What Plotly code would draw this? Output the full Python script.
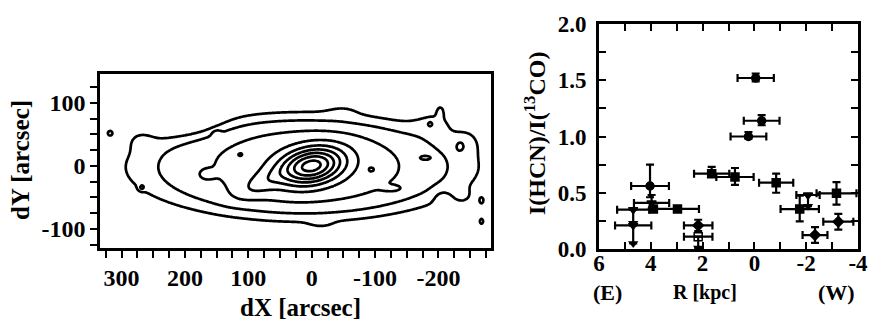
import numpy as np
import plotly.graph_objects as go

# ---------------- Left panel: contour map (emission components) -------------
# x0, y0 [arcsec], sx, sy [arcsec], amplitude, position angle [deg], profile power
clump_x = [16, 5, 0, 80, 205, 268, 168, 113, 150, -95, -128, -181, -195, -203, -187,
           -245, -234, -205, -240, 318, 268, -268, -268, -15, -50]
clump_y = [-2, 0, 0, -28, 75, 42, -14, 18, 50, -6, -36, 13, 70, 88, 67,
           40, 31, -50, -50, 52, -34, -55, -88, -92, 88]
clump_sx = [280, 117, 34, 30, 40, 15, 10, 5, 5, 6, 11, 8, 25, 5, 4,
            15, 4, 10, 12, 3.5, 3.5, 2.5, 2.5, 15, 20]
clump_sy = [84, 50.8, 18.9, 12, 18, 12, 7, 3.5, 5, 5, 3.5, 3, 15, 8, 4,
            15, 5, 10, 10, 3.5, 3.5, 4.0, 4.0, 6, 8]
clump_amp = [2.4, 1.4, 5.7, 1.0, -2.0, 0.8, 0.35, 0.9, 0.9, 0.7, 0.6, 0.9, 0.9, 0.8, 0.8,
             0.8, 0.8, -0.6, 0.6, 1.6, 1.2, 1.6, 1.6, 0.5, 0.5]
clump_ang = [0, 0, -12, -25, 0, 0, 0, 0, 0, 0, 0, 0, 0, 0, 0,
             0, 0, 0, 0, 0, 0, 0, 0, 0, 0]
clump_pow = [6, 2, 2, 2, 2, 2, 2, 2, 2, 2, 2, 2, 2, 2, 2,
             2, 2, 2, 2, 2, 2, 2, 2, 2, 2]
contour_levels = [1, 9, 1]  # start, end, size

dx_ticks = [300, 200, 100, 0, -100, -200]
dy_ticks = [100, 0, -100]

# ---------------- Right panel: line ratio vs radius -------------
R_kpc = [-0.05, -0.28, 0.23, 1.65, 0.75, -0.84, -1.75, -3.17, -3.24, -2.34,
         2.17, 2.17, 4.03, 3.97, 3.90, 2.97, 4.68, 4.68, -2.07]
ratio = [1.52, 1.14, 1.00, 0.67, 0.64, 0.59, 0.355, 0.495, 0.243, 0.124,
         0.21, 0.11, 0.56, 0.41, 0.355, 0.356, 0.35, 0.21, 0.48]
R_err = [0.70, 0.69, 0.69, 0.68, 0.72, 0.66, 0.74, 0.77, 0.58, 0.48,
         0.55, 0.55, 0.73, 0.68, 0.0, 0.83, 0.62, 0.70, 0.45]
ratio_err_up = [0.04, 0.05, 0.04, 0.06, 0.08, 0.08, 0.12, 0.10, 0.07, 0.07,
                0.05, 0.0, 0.19, 0.07, 0.0, 0.0, 0.0, 0.0, 0.0]
ratio_err_dn = [0.03, 0.04, 0.02, 0.03, 0.07, 0.09, 0.11, 0.10, 0.07, 0.07,
                0.05, 0.10, 0.10, 0.05, 0.0, 0.0, 0.12, 0.16, 0.10]
upper_limit = [0, 0, 0, 0, 0, 0, 0, 0, 0, 0, 0, 1, 0, 0, 0, 0, 1, 1, 1]
marker_sym = ["circle", "circle", "circle", "square", "square", "square", "square", "square",
              "diamond", "diamond", "diamond", "square-open", "circle", "triangle-down",
              "square", "square", "triangle-down", "triangle-down", "triangle-down"]
R_ticks = [6, 4, 2, 0, -2, -4]
ratio_ticks = [0.0, 0.5, 1.0, 1.5, 2.0]

# ---------------- build field ----------------
gx = np.arange(340, -292, -2.0)
gy = np.arange(-135, 152, 2.0)
X, Y = np.meshgrid(gx, gy)
Z = np.zeros_like(X, dtype=float)
for x0, y0, sx, sy, a, ang, p in zip(clump_x, clump_y, clump_sx, clump_sy, clump_amp, clump_ang, clump_pow):
    t = np.deg2rad(ang)
    u = (X - x0) * np.cos(t) + (Y - y0) * np.sin(t)
    v = -(X - x0) * np.sin(t) + (Y - y0) * np.cos(t)
    r2 = (u / sx) ** 2 + (v / sy) ** 2
    if p == 2:
        Z += a * np.exp(-0.5 * r2)
    else:
        Z += a * np.exp(-(r2 ** (p / 2.0)))

def font(size):
    return dict(family="Liberation Serif", size=size, color="black", weight="bold")

fig = go.Figure()
fig.add_trace(go.Contour(
    x=gx, y=gy, z=Z, xaxis="x", yaxis="y",
    contours=dict(coloring="lines", start=contour_levels[0], end=contour_levels[1], size=contour_levels[2]),
    colorscale=[[0, "black"], [1, "black"]], line=dict(width=2.7, color="black"),
    showscale=False, hoverinfo="skip"))

fig.add_trace(go.Scatter(
    x=R_kpc, y=ratio, xaxis="x2", yaxis="y2", mode="markers",
    marker=dict(symbol=marker_sym, size=8, color="black", line=dict(width=1.5, color="black")),
    error_x=dict(type="data", array=R_err, color="black", thickness=2.2, width=4),
    error_y=dict(type="data", symmetric=False, array=ratio_err_up, arrayminus=ratio_err_dn,
                 color="black", thickness=2.2, width=4),
    showlegend=False, hoverinfo="skip"))
ul_x = [x for x, u in zip(R_kpc, upper_limit) if u]
ul_y = [y - d for y, d, u in zip(ratio, ratio_err_dn, upper_limit) if u]
fig.add_trace(go.Scatter(
    x=ul_x, y=ul_y, xaxis="x2", yaxis="y2", mode="markers",
    marker=dict(symbol="triangle-down", size=9, color="black"),
    showlegend=False, hoverinfo="skip"))

W, H = 869, 324
def px(v):
    return v / W
def py(v):
    return 1 - v / H

def ax_common(size):
    return dict(showline=True, linewidth=2.6, linecolor="black", showgrid=False, automargin=False,
                zeroline=False, tickfont=font(size), tickcolor="black", tickwidth=2.2)

fig.update_layout(
    width=W, height=H, margin=dict(l=0, r=0, t=0, b=0, pad=0, autoexpand=False),
    paper_bgcolor="white", plot_bgcolor="white", font=font(22), showlegend=False,
    xaxis=dict(domain=[px(100), px(491)], range=[334, -283], anchor="y", mirror=True,
               tickvals=dx_ticks, ticktext=["300", "200", "100", "0", "-100", "-200"],
               ticks="outside", ticklen=7,
               minor=dict(dtick=25, tick0=0, ticks="outside", ticklen=7, tickwidth=2.2, tickcolor="black"),
               **ax_common(24)),
    yaxis=dict(domain=[py(247.7), py(74)], range=[-130, 146], anchor="x", mirror=True,
               tickvals=dy_ticks, ticktext=["100", "0", "-100"], ticks="outside", ticklen=7,
               minor=dict(dtick=25, tick0=0, ticks="outside", ticklen=7, tickwidth=2.2, tickcolor="black"),
               **ax_common(24)),
    xaxis2=dict(domain=[px(599), px(858)], range=[6, -4], anchor="y2", mirror="allticks",
                tickvals=R_ticks, ticktext=["6", "4", "2", "0", "-2", "-4"],
                ticks="inside", ticklen=7, ticklabeloverflow="allow", ticklabelstandoff=-8,
                minor=dict(dtick=1, tick0=0, ticks="inside", ticklen=7, tickwidth=2.2, tickcolor="black"),
                **ax_common(23)),
    yaxis2=dict(domain=[py(249), py(24)], range=[0, 2], anchor="x2", mirror="allticks",
                tickvals=ratio_ticks, ticktext=["0.0", "0.5", "1.0", "1.5", "2.0"],
                ticks="inside", ticklen=7, ticklabelstandoff=5,
                minor=dict(dtick=0.25, tick0=0, ticks="inside", ticklen=7, tickwidth=2.2, tickcolor="black"),
                **ax_common(23)),
)

annos = [
    dict(text="dX [arcsec]", x=px(300), y=py(307), size=25),
    dict(text="dY [arcsec]", x=px(20), y=py(160), textangle=-90, size=25),
    dict(text="I(HCN)/I(<sup>13</sup>CO)", x=px(535), y=py(134), textangle=-90, size=24),
    dict(text="(E)", x=px(607), y=py(292), size=22),
    dict(text="R [kpc]", x=px(705), y=py(292), size=20),
    dict(text="(W)", x=px(836), y=py(292), size=22),
]
for a in annos:
    s = a.pop("size")
    fig.add_annotation(xref="paper", yref="paper", showarrow=False, font=font(s),
                       xanchor="center", yanchor="middle", **a)

fig.write_html("out.html", config={"displayModeBar": False},
               post_script="document.body.style.margin='0px';")
